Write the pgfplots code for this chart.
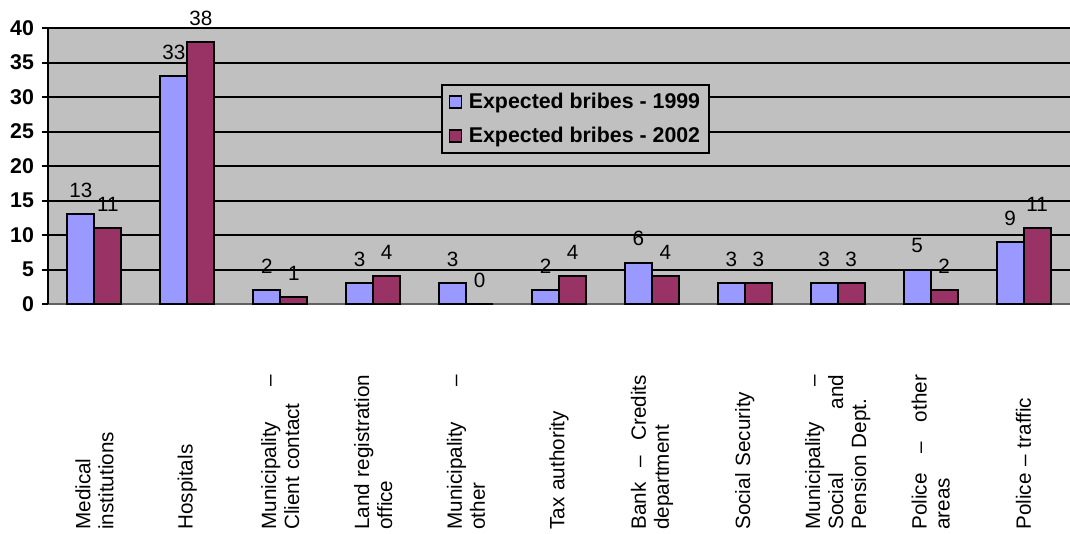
\documentclass[border=0pt]{standalone}
\usepackage{pgfplots}
\pgfplotsset{compat=1.18}
\usepackage{fontspec}
\setmainfont{Liberation Sans}
\definecolor{bgray}{HTML}{C0C0C0}
\definecolor{blue99}{HTML}{9999FF}
\definecolor{plum}{HTML}{993366}
\newlength\labw
\setlength\labw{116pt}
\newcommand\jl[1]{\leavevmode\hbox to\labw{#1}}
\begin{document}
\begin{tikzpicture}
\useasboundingbox (0,0) rectangle (802.5pt,399.75pt);
\begin{axis}[
  at={(36pt,171.75pt)}, anchor=south west,
  scale only axis, width=766.5pt, height=207pt,
  xmin=-0.5, xmax=10.5, ymin=0, ymax=40,
  ybar=0pt, bar width=20.25pt,
  clip=false,
  axis background/.style={fill=bgray},
  axis x line*=bottom, axis y line*=left,
  x axis line style={draw=gray!75!black, line width=1.3pt, -},
  y axis line style={draw=black, line width=1.5pt, -},
  xtick=data,
  xticklabels={
    {Medical\\institutions},
    {Hospitals},
    {\jl{Municipality\hfill–}\\Client contact},
    {\jl{Land\hfill registration}\\office},
    {\jl{Municipality\hfill–}\\other},
    {Tax authority},
    {\jl{Bank\hfill–\hfill Credits}\\department},
    {Social Security},
    {\jl{Municipality\hfill–}\\\jl{Social\hfill and}\\Pension Dept.},
    {\jl{Police\hfill–\hfill other}\\areas},
    {Police – traffic}},
  xtick style={draw=none},
  xticklabel style={rotate=90, anchor=east, inner sep=0pt,
     font=\fontsize{15.5}{17.25}\selectfont, text width=\labw, align=left},
  xticklabel shift=48.5pt,
  ytick={5,10,...,40},
  extra y ticks={0},
  extra y tick style={grid=none},
  ymajorgrids,
  major y grid style={black, line width=1.5pt},
  tick align=outside,
  major tick length=4.5pt,
  ytick style={black, line width=1.5pt},
  /pgf/number format/assume math mode=true,
  yticklabel style={font=\bfseries\fontsize{16}{18}\selectfont, xshift=-2.5pt},
  nodes near coords,
  every node near coord/.append style={anchor=base, yshift=12.5pt, inner sep=0pt,
     font=\fontsize{15.5}{18}\selectfont, black},
  legend style={at={(0.3845,0.797)}, anchor=north west, fill=bgray, draw=black,
     line width=1.5pt, font=\bfseries\fontsize{16}{18}\selectfont,
     inner xsep=5pt, inner ysep=4pt, row sep=8.5pt,
     /tikz/every odd column/.append style={column sep=3pt}},
  legend cell align=left,
  legend image code/.code={\draw[#1, line width=1.2pt] (0pt,-4.5pt) rectangle (9pt,4.5pt);},
]
\addplot[fill=blue99, draw=black, line width=1.5pt] coordinates {
  (0,13) (1,33) (2,2) (3,3) (4,3) (5,2) (6,6) (7,3) (8,3) (9,5) (10,9)};
\addplot[fill=plum, draw=black, line width=1.5pt] coordinates {
  (0,11) (1,38) (2,1) (3,4) (4,0) (5,4) (6,4) (7,3) (8,3) (9,2) (10,11)};
\legend{Expected bribes - 1999, Expected bribes - 2002}
\end{axis}
\end{tikzpicture}
\end{document}
